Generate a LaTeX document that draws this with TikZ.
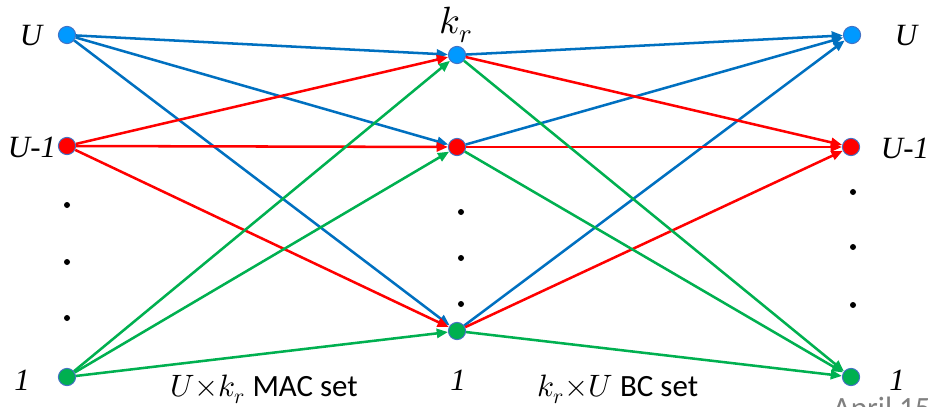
\documentclass[tikz,border=0pt]{standalone}
\usepackage{fontspec}
\usepackage{unicode-math}
\setmathfont{Latin Modern Math}
\newfontfamily\labfont{Liberation Serif}
\newfontfamily\setfont{Carlito}
\definecolor{nblue}{RGB}{0,153,255}
\definecolor{nred}{RGB}{255,0,0}
\definecolor{ngreen}{RGB}{0,176,80}
\definecolor{nline}{RGB}{68,114,196}
\definecolor{eblue}{RGB}{0,112,192}
\definecolor{ered}{RGB}{255,0,0}
\definecolor{egreen}{RGB}{0,176,80}
\usetikzlibrary{arrows.meta}

\begin{document}
\begin{tikzpicture}[
  x=0.025cm,y=-0.025cm,
  user/.style={circle,draw=nline,line width=0.7pt,minimum size=0.43cm,inner sep=0pt},
  vdot/.style={circle,fill=black,minimum size=0.15cm,inner sep=0pt},
  lab/.style={font=\fontsize{22}{26}\selectfont\labfont\itshape},
  link/.style={line width=1.8pt,-{Triangle[length=8pt,width=6.5pt]}},
  caption/.style={font=\fontsize{22}{26}\selectfont\setfont,anchor=base}
]
\useasboundingbox (0,0) rectangle (928,407);
\clip (0,0) rectangle (928,407);

% users, relays, users
\node[user,fill=nblue]  (l3) at (67,35) {};
\node[user,fill=nred]   (l2) at (67,146) {};
\node[user,fill=ngreen] (l1) at (67,377) {};
\node[user,fill=nblue]  (m3) at (457,55) {};
\node[user,fill=nred]   (m2) at (457,147) {};
\node[user,fill=ngreen] (m1) at (457,331) {};
\node[user,fill=nblue]  (r3) at (852,35) {};
\node[user,fill=nred]   (r2) at (851,147) {};
\node[user,fill=ngreen] (r1) at (851,377) {};

% MAC and BC links
\foreach \s/\c in {l3/eblue,l2/ered,l1/egreen}
  \foreach \t in {m3,m2,m1}
    \draw[link,\c] (\s) -- (\t);
\foreach \t/\c in {r3/eblue,r2/ered,r1/egreen}
  \foreach \s in {m3,m2,m1}
    \draw[link,\c] (\s) -- (\t);

% dots
\foreach \y [count=\i] in {205,262,318}
  \node[vdot] (ld\i) at (67,\y) {};
\foreach \y [count=\i] in {212,258,304}
  \node[vdot] (md\i) at (461,\y) {};
\foreach \y [count=\i] in {192,247,305}
  \node[vdot] (rd\i) at (853,\y) {};

% labels
\node[lab] (tl3) at (31,36) {U};
\node[lab] (tl2) at (32,147) {U-1};
\node[lab] (tl1) at (22,380) {1};
\node[lab,font=\fontsize{27}{30}\selectfont] (tm3) at (456,25) {$k_r$};
\node[lab] (tm1) at (458,380) {1};
\node[lab] (tr3) at (906,36) {U};
\node[lab] (tr2) at (905,148) {U-1};
\node[lab] (tr1) at (897,380) {1};

\node[caption] (mac) at (264,396) {$U{\times}k_r$ MAC set};
\node[caption] (bc) at (618,396) {$k_r{\times}U$ BC set};
\node[caption,anchor=base west,text=gray] (date) at (828,418) {April 15};
\end{tikzpicture}
\end{document}
